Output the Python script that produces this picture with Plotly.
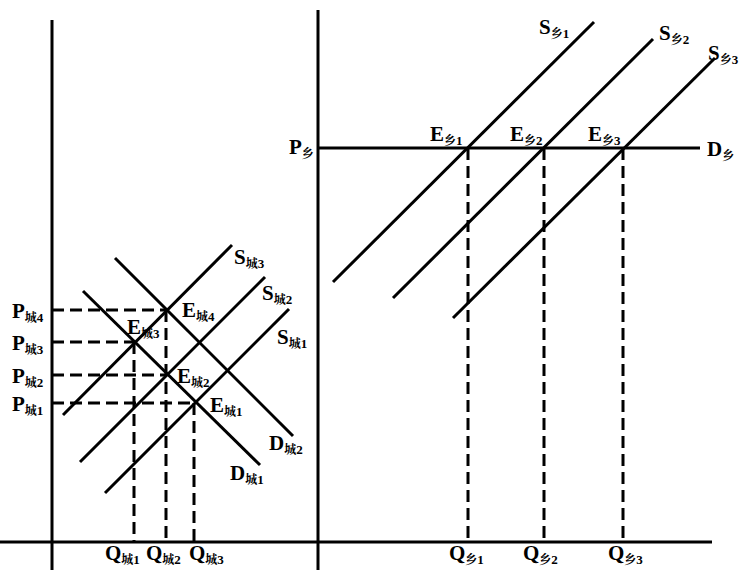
import plotly.graph_objects as go

# ---- data (diagram coordinates, y grows downward as in the picture) ----
# axes
axis_v_left = [(52, 20), (52, 570)]
axis_v_right = [(318, 10), (318, 570)]
axis_h = [(0, 542), (712, 542)]

# city (城) market: supply curves S1..S3 and demand curves D1..D2
city_supply_start = [(105, 493), (80, 462), (63, 415)]
city_supply_end = [(289, 309), (265, 277), (232, 245)]
city_demand_start = [(83, 291), (115, 258)]
city_demand_end = [(260, 465), (293, 436)]
# equilibria E1..E4
city_eq_x = [194, 166, 134, 166]
city_eq_y = [403, 375, 342, 310]
city_q_from = [2, 3, 0]  # which equilibrium each Q1..Q3 drops from

# rural (乡) market
rural_supply_start = [(333, 282), (393, 298), (453, 318)]
rural_supply_end = [(594, 22), (653, 39), (715, 58)]
rural_demand = [(318, 148), (700, 148)]
rural_eq_x = [468, 544, 623]
rural_eq_y = [148, 148, 148]

# labels: (text main, subscript, number, x-left, y-centre)
city_labels = [
    ("P", "城", "4", 10, 312), ("P", "城", "3", 10, 344), ("P", "城", "2", 10, 377), ("P", "城", "1", 10, 405),
    ("E", "城", "3", 125, 328), ("E", "城", "4", 180, 311), ("E", "城", "2", 175, 377), ("E", "城", "1", 208, 406),
    ("S", "城", "3", 232, 258), ("S", "城", "2", 260, 294), ("S", "城", "1", 275, 338),
    ("D", "城", "2", 267, 444), ("D", "城", "1", 228, 474),
    ("Q", "城", "1", 103, 554), ("Q", "城", "2", 144, 554), ("Q", "城", "3", 187, 554),
]
rural_labels = [
    ("S", "乡", "1", 537, 28), ("S", "乡", "2", 657, 34), ("S", "乡", "3", 706, 54),
    ("E", "乡", "1", 428, 135), ("E", "乡", "2", 508, 135), ("E", "乡", "3", 586, 135),
    ("P", "乡", "", 287, 148), ("D", "乡", "", 705, 150),
    ("Q", "乡", "1", 447, 554), ("Q", "乡", "2", 521, 554), ("Q", "乡", "3", 606, 554),
]

AXIS_BOTTOM = axis_h[0][1]
AXIS_LEFT = axis_v_left[0][0]

fig = go.Figure()
solid = dict(color="black", width=3)
dash = dict(color="black", width=3, dash="12px,6px")


def seg(p0, p1, line):
    fig.add_trace(go.Scatter(x=[p0[0], p1[0]], y=[p0[1], p1[1]], mode="lines",
                             line=line, hoverinfo="skip", showlegend=False))


# dashed guides
for ex, ey in zip(city_eq_x, city_eq_y):
    seg((AXIS_LEFT, ey), (ex, ey), dash)
for i in city_q_from:
    seg((city_eq_x[i], city_eq_y[i]), (city_eq_x[i], AXIS_BOTTOM), dash)
for ex, ey in zip(rural_eq_x, rural_eq_y):
    seg((ex, ey), (ex, AXIS_BOTTOM), dash)

# axes
seg(*axis_v_left, solid)
seg(*axis_v_right, solid)
seg(*axis_h, solid)

# curves
for a, b in zip(city_supply_start, city_supply_end):
    seg(a, b, solid)
for a, b in zip(city_demand_start, city_demand_end):
    seg(a, b, solid)
for a, b in zip(rural_supply_start, rural_supply_end):
    seg(a, b, solid)
seg(*rural_demand, solid)

FONT = "Liberation Serif, Noto Serif CJK SC, Noto Sans CJK SC, serif"
for main, sub, num, x, y in city_labels + rural_labels:
    txt = (f"<b>{main}<sub><span style='font-size:12px'>{sub}</span>"
           f"<span style='font-size:13px'>{num}</span></sub></b>")
    fig.add_annotation(x=x, y=y, text=txt, showarrow=False, xanchor="left", yanchor="middle",
                       font=dict(family=FONT, size=21, color="black"))

fig.update_layout(
    width=739, height=570, margin=dict(l=0, r=0, t=0, b=0),
    paper_bgcolor="white", plot_bgcolor="white",
    xaxis=dict(range=[0, 739], visible=False, fixedrange=True),
    yaxis=dict(range=[570, 0], visible=False, fixedrange=True),
)
fig.write_html(
    "out.html",
    config={"displayModeBar": False},
    post_script="document.body.style.margin='0';document.body.style.overflow='hidden';",
)
